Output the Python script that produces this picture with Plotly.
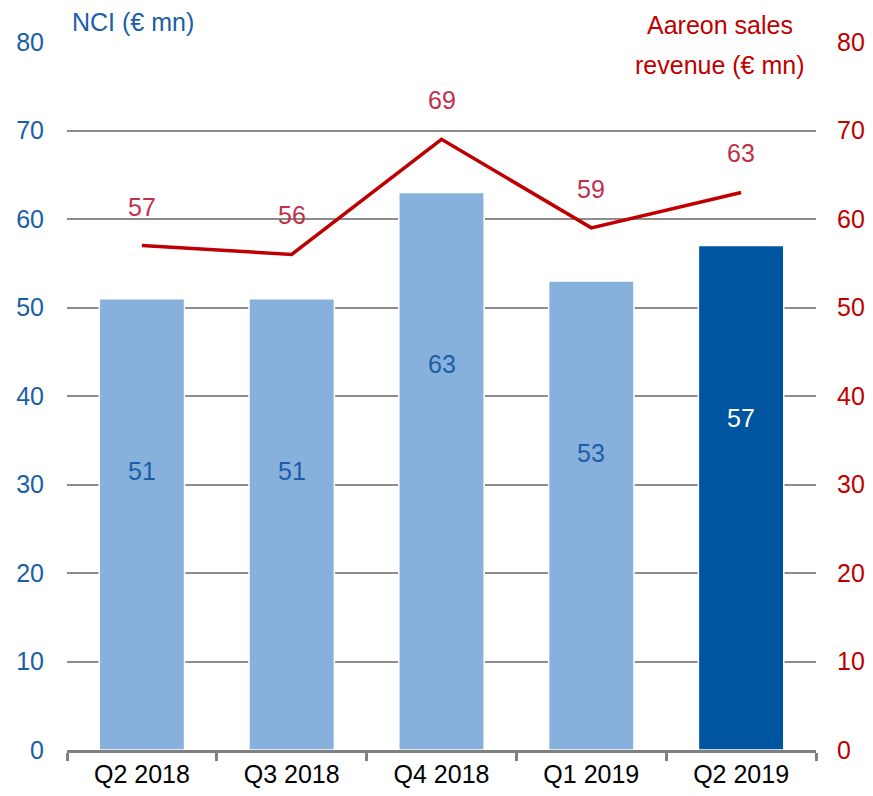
import plotly.graph_objects as go

quarters = ["Q2 2018", "Q3 2018", "Q4 2018", "Q1 2019", "Q2 2019"]
nci = [51, 51, 63, 53, 57]
aareon = [57, 56, 69, 59, 63]
left_ticks = [0, 10, 20, 30, 40, 50, 60, 70, 80]

BLUE = "#1a5ea8"
RED = "#c00000"
LABEL_RED = "#c0304a"
bar_colors = ["#87b1dc"] * 4 + ["#0055a0"]
bar_text_colors = [BLUE] * 4 + ["white"]
FONT = "Liberation Sans, Arial, sans-serif"
FS = 25

fig = go.Figure()
fig.add_trace(go.Bar(
    x=quarters, y=nci, width=0.57,
    marker=dict(color=bar_colors, line=dict(color="white", width=1.5)),
    yaxis="y", showlegend=False,
))
for q, v, c in zip(quarters, nci, bar_text_colors):
    fig.add_annotation(x=q, y=v, xref="x", yref="y", text=str(v), showarrow=False,
                       yshift=-172, font=dict(family=FONT, size=FS, color=c))
fig.add_trace(go.Scatter(
    x=quarters, y=aareon, mode="lines",
    line=dict(color=RED, width=3.5), yaxis="y2", showlegend=False,
))
for q, v in zip(quarters, aareon):
    fig.add_annotation(x=q, y=v, xref="x", yref="y2", text=str(v), showarrow=False,
                       yshift=39, font=dict(family=FONT, size=FS, color=LABEL_RED))

fig.add_annotation(x=0.005, y=1.0, xref="paper", yref="paper", yanchor="middle", xanchor="left",
                   text="NCI (€ mn)", showarrow=False, yshift=20, borderpad=0,
                   font=dict(family=FONT, size=FS, color=BLUE))
fig.add_annotation(x=0.872, y=1.0, xref="paper", yref="paper", xanchor="center", yanchor="middle",
                   text="Aareon sales", showarrow=False, yshift=17, borderpad=0,
                   font=dict(family=FONT, size=FS, color=RED))
fig.add_annotation(x=0.872, y=1.0, xref="paper", yref="paper", xanchor="center", yanchor="middle",
                   text="revenue (€ mn)", showarrow=False, yshift=-23,
                   font=dict(family=FONT, size=FS, color=RED))

fig.update_layout(
    width=865, height=788,
    margin=dict(l=59, r=57, t=34, b=46),
    plot_bgcolor="white", paper_bgcolor="white",
    xaxis=dict(
        type="category", showgrid=False, showline=True, linecolor="#808080", linewidth=3,
        ticks="outside", tickson="boundaries", ticklen=8, tickwidth=3, tickcolor="#808080",
        tickfont=dict(family=FONT, size=FS, color="black"), zeroline=False,
        automargin=False,
    ),
    yaxis=dict(
        range=[0, 80], tickvals=left_ticks, showgrid=True, gridcolor="#8c8c8c", gridwidth=2,
        zeroline=False, showline=False, ticks="", ticklabelstandoff=22,
        tickfont=dict(family=FONT, size=FS, color=BLUE), automargin=False,
    ),
    yaxis2=dict(
        range=[0, 80], tickvals=left_ticks, overlaying="y", side="right", showgrid=False,
        zeroline=False, showline=False, ticks="", ticklabelstandoff=20,
        tickfont=dict(family=FONT, size=FS, color=RED), automargin=False,
    ),
)

fig.write_html("out.html")
